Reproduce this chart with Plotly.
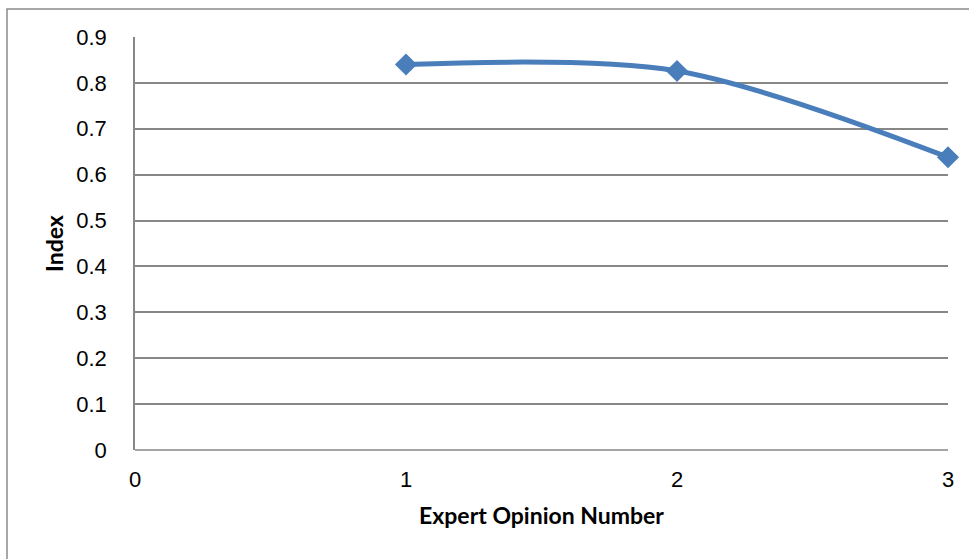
import plotly.graph_objects as go

# Expert opinion index values
opinion_numbers = [1, 2, 3]
index_values = [0.84, 0.826, 0.638]

x_ticks = [0, 1, 2, 3]
y_ticks = [0, 0.1, 0.2, 0.3, 0.4, 0.5, 0.6, 0.7, 0.8, 0.9]

W, H = 969, 559
L, R, T, B = 135, 948, 37, 450  # plot area in pixels

fig = go.Figure()
fig.add_trace(go.Scatter(
    x=opinion_numbers, y=index_values,
    mode="lines+markers",
    line=dict(color="#4A7EBB", width=5, shape="spline", smoothing=0.9),
    marker=dict(symbol="diamond", size=17, color="#4A7EBB"),
    showlegend=False,
    cliponaxis=False,
))

grid_color = "#878787"
tick_font = dict(family="Liberation Sans, Arial, sans-serif", size=22, color="black")
title_font = dict(family="Lato, Open Sans, sans-serif", size=23, color="black", weight="bold")

fig.update_xaxes(
    range=[0, 3], tickvals=x_ticks, ticktext=[str(v) for v in x_ticks],
    showgrid=False, zeroline=False, showline=False,
    tickfont=tick_font, ticks="", ticklabelstandoff=14,
    title=dict(text="Expert Opinion Number", font=title_font, standoff=16),
)
fig.update_yaxes(
    range=[0, 0.9], tickvals=y_ticks, ticktext=[("%g" % v) for v in y_ticks],
    showgrid=True, gridcolor=grid_color, gridwidth=1.5,
    zeroline=False, showline=True, linecolor=grid_color, linewidth=1.5,
    tickfont=tick_font, ticks="", ticklabelstandoff=22,
    title=dict(text="Index", font=title_font, standoff=6),
)

pw, ph = R - L, B - T
def px(xp):
    return (xp - L) / pw
def py(yp):
    return (B - yp) / ph

shapes = [
    # baseline at y = 0
    dict(type="line", xref="paper", yref="paper", x0=0, x1=1, y0=0, y1=0,
         line=dict(color=grid_color, width=1.5)),
    # chart frame
    dict(type="rect", xref="paper", yref="paper",
         x0=px(7), x1=px(985), y0=py(575), y1=py(9),
         line=dict(color="#8C8C8C", width=1.5), fillcolor="rgba(0,0,0,0)", layer="below"),
]

fig.update_layout(
    width=W, height=H,
    margin=dict(l=L, r=W - R, t=T, b=H - B),
    plot_bgcolor="white", paper_bgcolor="white",
    shapes=shapes,
)

fig.write_html("out.html")
